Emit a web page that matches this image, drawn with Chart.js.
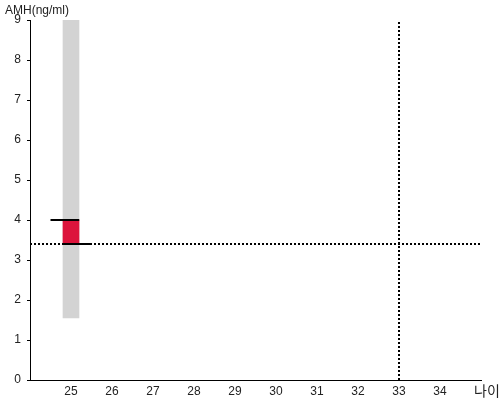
<!DOCTYPE html>
<html><head><meta charset="utf-8">
<script src="https://cdn.jsdelivr.net/npm/chart.js@4/dist/chart.umd.min.js"></script>
<style>html,body{margin:0;padding:0;background:#fff}#wrap{width:500px;height:400px;position:relative}</style>
</head><body><div id="wrap"><canvas id="c" width="500" height="400"></canvas></div>
<script>
// Data
const ages = [25];
const amhRangeMin = [1.55];
const amhRangeMax = [9];
const amhLow = [3.4];
const amhHigh = [4.0];
const refAge = 33;
const refAmh = 3.4;
const xTickLabels = [25, 26, 27, 28, 29, 30, 31, 32, 33, 34];
const yTickLabels = [0, 1, 2, 3, 4, 5, 6, 7, 8, 9];
const xLabel = '나이';
const yLabel = 'AMH(ng/ml)';

const X_MIN = 24, X_MAX = 35, Y_MIN = 0, Y_MAX = 9;
const capLeft = 0.5, capInner = 0.2; // marker cap extents (style)

const grayData = ages.map((a, i) => ({x: a, y: [amhRangeMin[i], amhRangeMax[i]]}));
const redData = ages.map((a, i) => ({x: a, y: [amhLow[i], amhHigh[i]]}));
const capSets = [];
ages.forEach((a, i) => {
  capSets.push({type: 'line', data: [{x: a - capLeft, y: amhHigh[i]}, {x: a + capInner, y: amhHigh[i]}],
    borderColor: '#000', borderWidth: 2, pointRadius: 0, order: 1});
  capSets.push({type: 'line', data: [{x: a - capInner, y: amhLow[i]}, {x: a + capLeft, y: amhLow[i]}],
    borderColor: '#000', borderWidth: 2, pointRadius: 0, order: 1});
});

const textPlugin = {
  id: 'texts',
  afterDraw(chart) {
    const c = chart.ctx;
    c.save();
    c.fillStyle = '#222';
    c.font = '12px "Liberation Sans", Arial, sans-serif';
    c.textBaseline = 'alphabetic';
    c.textAlign = 'left';
    c.fillText(yLabel, 5, 14);
    c.font = '14px "Noto Sans CJK KR", sans-serif';
    c.textBaseline = 'middle';
    c.fillText(xLabel, 474, 391);
    c.restore();
  }
};

new Chart(document.getElementById('c'), {
  data: {
    datasets: [
      ...capSets,
      {type: 'line', data: [{x: X_MIN, y: refAmh}, {x: X_MAX, y: refAmh}], borderColor: '#000', borderWidth: 2, borderDash: [2, 2], pointRadius: 0, order: 2},
      {type: 'line', data: [{x: refAge, y: Y_MIN}, {x: refAge, y: Y_MAX}], borderColor: '#000', borderWidth: 2, borderDash: [2, 2], pointRadius: 0, order: 2},
      {type: 'bar', data: redData, backgroundColor: '#dc143c', barThickness: 16, grouped: false, order: 3},
      {type: 'bar', data: grayData, backgroundColor: '#d3d3d3', barThickness: 16, grouped: false, order: 4}
    ]
  },
  plugins: [textPlugin],
  options: {
    responsive: false,
    animation: false,
    layout: {padding: {top: 20, right: 19, left: 0, bottom: 0}},
    plugins: {legend: {display: false}, tooltip: {enabled: false}},
    scales: {
      x: {
        type: 'linear', min: X_MIN, max: X_MAX, offset: false,
        afterFit: s => { s.height = 20; },
        border: {color: '#000', width: 1},
        grid: {display: false, drawTicks: false, offset: false},
        ticks: {
          stepSize: 1, autoSkip: false, maxRotation: 0, padding: 4,
          color: '#222', font: {family: '"Liberation Sans", Arial, sans-serif', size: 12},
          callback: v => xTickLabels.includes(v) ? String(v) : ''
        }
      },
      y: {
        type: 'linear', min: Y_MIN, max: Y_MAX,
        afterFit: s => { s.width = 30; },
        border: {color: '#000', width: 1},
        grid: {drawOnChartArea: false, drawTicks: true, tickLength: 3, color: '#000'},
        ticks: {
          stepSize: 1, padding: 6,
          color: '#222', font: {family: '"Liberation Sans", Arial, sans-serif', size: 12},
          callback: v => yTickLabels.includes(v) ? String(v) : ''
        }
      }
    }
  }
});
</script>
</body></html>
